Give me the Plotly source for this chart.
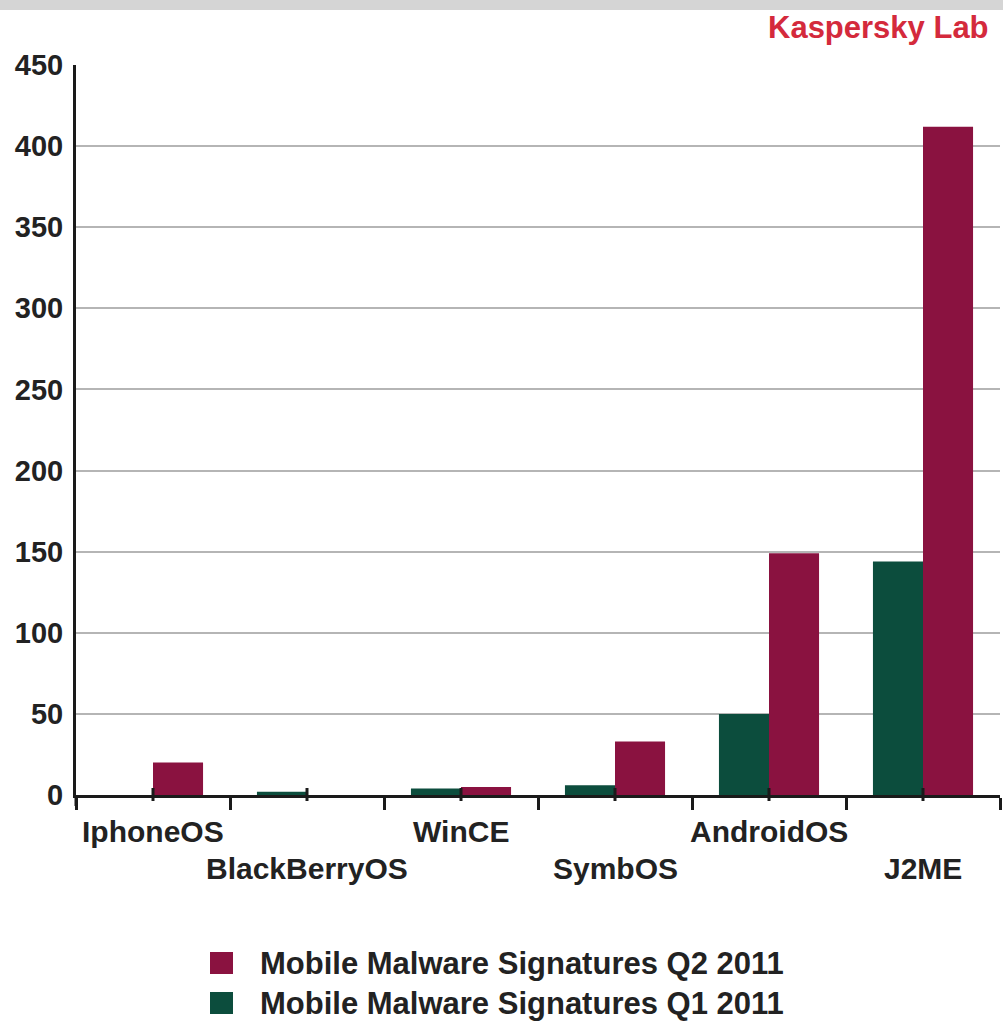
import plotly.graph_objects as go

categories = ["IphoneOS", "BlackBerryOS", "WinCE", "SymbOS", "AndroidOS", "J2ME"]
q1_2011 = [0, 2, 4, 6, 50, 144]
q2_2011 = [20, 0, 5, 33, 149, 412]
y_ticks = [0, 50, 100, 150, 200, 250, 300, 350, 400, 450]
series_names = ["Mobile Malware Signatures Q1 2011", "Mobile Malware Signatures Q2 2011"]

C_Q1 = "#0c4d3d"
C_Q2 = "#8a1240"
FONT = "Liberation Sans"
W, H = 1003, 1022
ML, MR, MT, MB = 76, 3, 65, 227
plot_w = W - ML - MR
plot_h = H - MT - MB

fig = go.Figure()
fig.add_trace(go.Bar(x=categories, y=q1_2011, name=series_names[0], marker=dict(color=C_Q1, line=dict(width=0)), showlegend=False))
fig.add_trace(go.Bar(x=categories, y=q2_2011, name=series_names[1], marker=dict(color=C_Q2, line=dict(width=0)), showlegend=False))

def px_y(py):
    return (H - MB - py) / plot_h

def px_x(px):
    return (px - ML) / plot_w

shapes = []
# top grey banner
shapes.append(dict(type="rect", xref="paper", yref="paper", x0=px_x(0), x1=px_x(W),
                   y0=px_y(10), y1=px_y(0), fillcolor="#d5d5d5", line=dict(width=0), layer="below"))
# y axis stub below the x axis
shapes.append(dict(type="line", xref="paper", yref="paper", x0=0, x1=0,
                   y0=px_y(806), y1=0, line=dict(color="#1a1a1a", width=3)))
# short ticks at category centres
for c in categories:
    shapes.append(dict(type="line", xref="x", yref="paper", x0=c, x1=c,
                       y0=px_y(801), y1=px_y(788), line=dict(color="#1a1a1a", width=3)))

annotations = [dict(text="<b>Kaspersky Lab</b>", xref="paper", yref="paper", x=px_x(991),
                    y=px_y(28), xanchor="right", yanchor="middle", showarrow=False,
                    font=dict(family=FONT, size=31, color="#d42a3c"))]
for i, c in enumerate(categories):
    row_y = 831 if i % 2 == 0 else 868
    annotations.append(dict(text="<b>%s</b>" % c, xref="x", yref="paper", x=c, y=px_y(row_y),
                            xanchor="center", yanchor="middle", showarrow=False,
                            font=dict(family=FONT, size=30, color="#222222")))

# legend (drawn manually so the swatches match the reference size)
legend_items = [(series_names[1], C_Q2, 963), (series_names[0], C_Q1, 1003)]
for name, col, cy in legend_items:
    shapes.append(dict(type="rect", xref="paper", yref="paper", x0=px_x(210), x1=px_x(233),
                       y0=px_y(cy + 11), y1=px_y(cy - 11), fillcolor=col, line=dict(width=0)))
    annotations.append(dict(text="<b>%s</b>" % name, xref="paper", yref="paper", x=px_x(258),
                            y=px_y(cy), xanchor="left", yanchor="middle", showarrow=False,
                            font=dict(family=FONT, size=31, color="#222222")))

fig.update_layout(
    width=W, height=H,
    margin=dict(l=ML, r=MR, t=MT, b=MB, pad=0),
    paper_bgcolor="white", plot_bgcolor="white",
    barmode="group", bargap=0.35, bargroupgap=0,
    font=dict(family=FONT, color="#222222"),
    showlegend=False,
    shapes=shapes, annotations=annotations,
    xaxis=dict(type="category", range=[-0.5, 5.5], showticklabels=False, tickson="boundaries",
               ticks="outside", ticklen=12, tickwidth=3, tickcolor="#1a1a1a",
               showline=True, linecolor="#1a1a1a", linewidth=3, showgrid=False, zeroline=False,
               fixedrange=True),
    yaxis=dict(range=[0, 450], tickvals=y_ticks, ticks="", ticklabelstandoff=4,
               tickfont=dict(family=FONT, size=29, weight="bold", color="#222222"),
               showline=True, linecolor="#1a1a1a", linewidth=3,
               showgrid=True, gridcolor="#b5b5b5", gridwidth=1.5, zeroline=False),
)

fig.write_html("out.html")
